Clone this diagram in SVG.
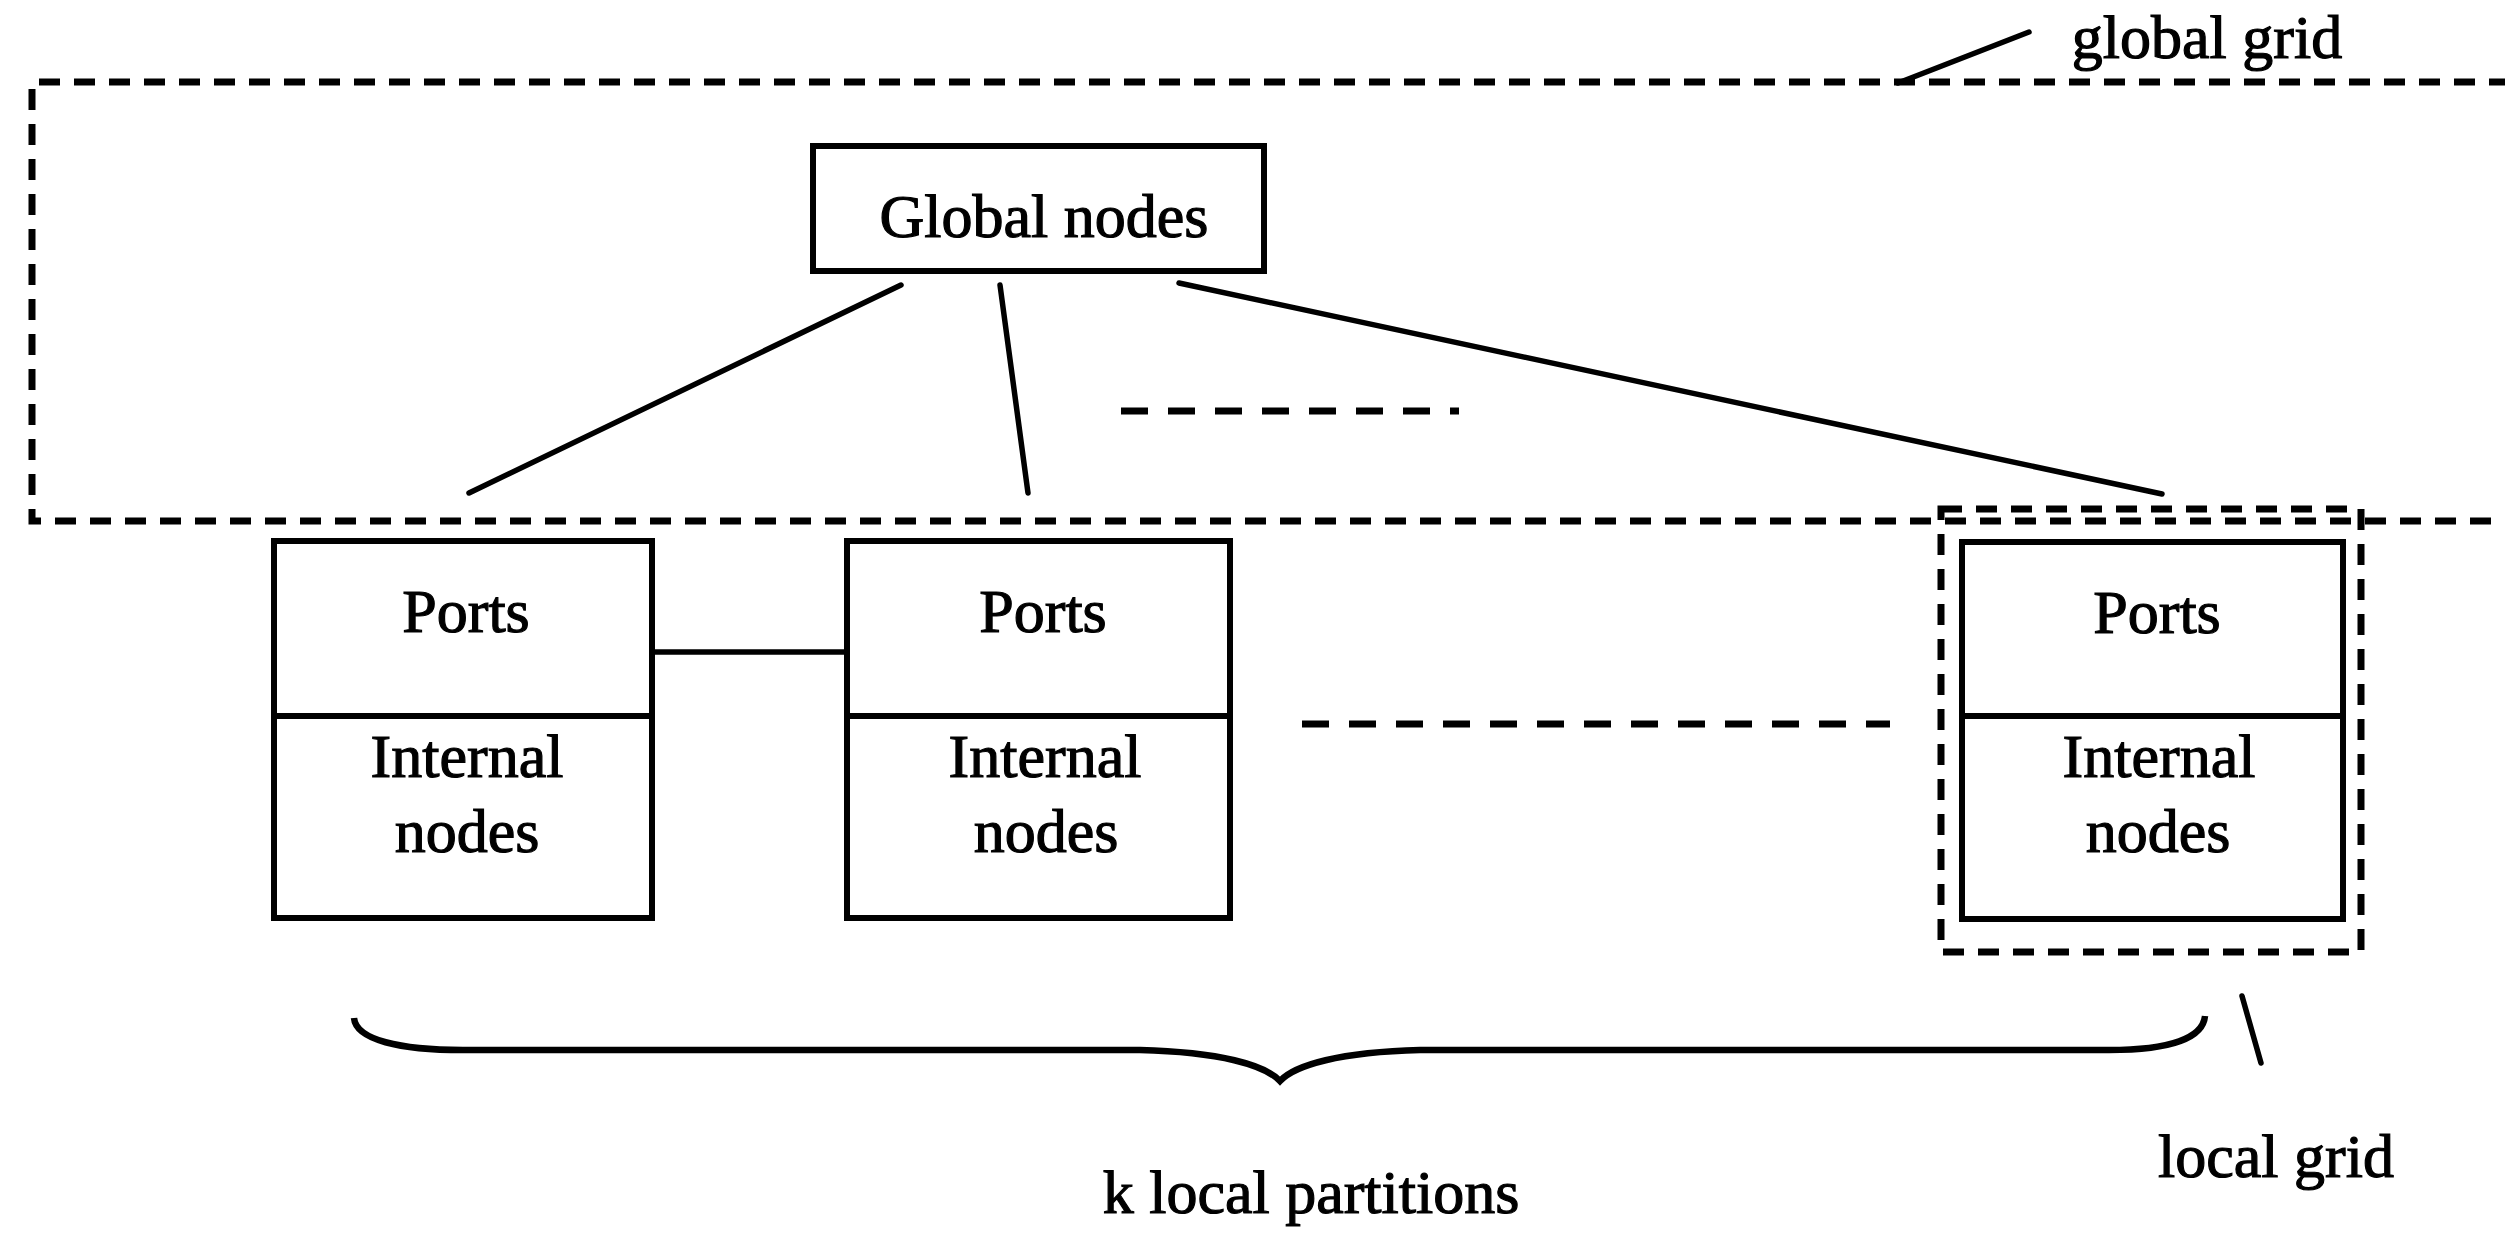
<svg xmlns="http://www.w3.org/2000/svg" width="2505" height="1234" viewBox="0 0 2505 1234">
<style>
.bg{fill:#fff}
.box{fill:#fff;stroke:#000;stroke-width:6}
.div{stroke:#000;stroke-width:6;fill:none}
.grid{fill:none;stroke:#000;stroke-width:7;stroke-dasharray:21 14}
.ln{stroke:#000;stroke-width:5.5;fill:none;stroke-linecap:round}
.dots{stroke:#000;stroke-width:7;fill:none;stroke-dasharray:27 20}
.brace{stroke:#000;stroke-width:6.5;fill:none}
text{font-family:"Liberation Serif","Times New Roman",serif;font-size:62px;fill:#000;stroke:#000;stroke-width:1.2;text-anchor:middle}
</style>
<rect class="bg" x="0" y="0" width="2505" height="1234"/>
<g id="global-grid">
<path class="grid" d="M2510,82 H32 V521 H2510"/>
<text x="2207" y="58">global grid</text>
</g>
<g id="local-grid">
<rect class="grid" x="1941" y="509" width="420" height="443"/>
<text x="2276" y="1177">local grid</text>
</g>
<g id="global-nodes">
<rect class="box" x="813" y="146" width="451" height="125"/>
<text x="1044" y="237">Global nodes</text>
</g>
<g id="partition-1">
<rect class="box" x="274" y="541" width="378" height="377"/>
<line class="div" x1="274" y1="716" x2="652" y2="716"/>
<text x="466" y="632">Ports</text>
<text x="467" y="777">Internal</text>
<text x="467" y="852">nodes</text>
</g>
<g id="partition-2">
<rect class="box" x="847" y="541" width="383" height="377"/>
<line class="div" x1="847" y1="716" x2="1230" y2="716"/>
<text x="1043" y="632">Ports</text>
<text x="1045" y="777">Internal</text>
<text x="1046" y="852">nodes</text>
</g>
<g id="partition-k">
<rect class="box" x="1962" y="542" width="381" height="377"/>
<line class="div" x1="1962" y1="716" x2="2343" y2="716"/>
<text x="2157" y="633">Ports</text>
<text x="2159" y="777">Internal</text>
<text x="2158" y="852">nodes</text>
</g>
<g id="k-local-partitions">
<path class="brace" d="M354,1018 C356,1040 400,1050 463,1050 L1140,1050 C1220,1052 1265,1065 1280,1081 C1295,1065 1340,1052 1420,1050 L2109,1050 C2170,1050 2203,1038 2205,1016"/>
<text x="1311" y="1213">k local partitions</text>
</g>
<g id="connectors">
<line class="ln" x1="901" y1="285" x2="469" y2="493"/>
<line class="ln" x1="1000" y1="285" x2="1028" y2="493"/>
<line class="ln" x1="1179" y1="283" x2="2162" y2="494"/>
<line class="ln" x1="653" y1="652" x2="847" y2="652"/>
<line class="ln" x1="1898" y1="83" x2="2029" y2="32"/>
<line class="ln" x1="2242" y1="996" x2="2261" y2="1063"/>
<line class="dots" x1="1121" y1="411" x2="1459" y2="411"/>
<line class="dots" x1="1302" y1="724" x2="1890" y2="724"/>
</g>
</svg>
